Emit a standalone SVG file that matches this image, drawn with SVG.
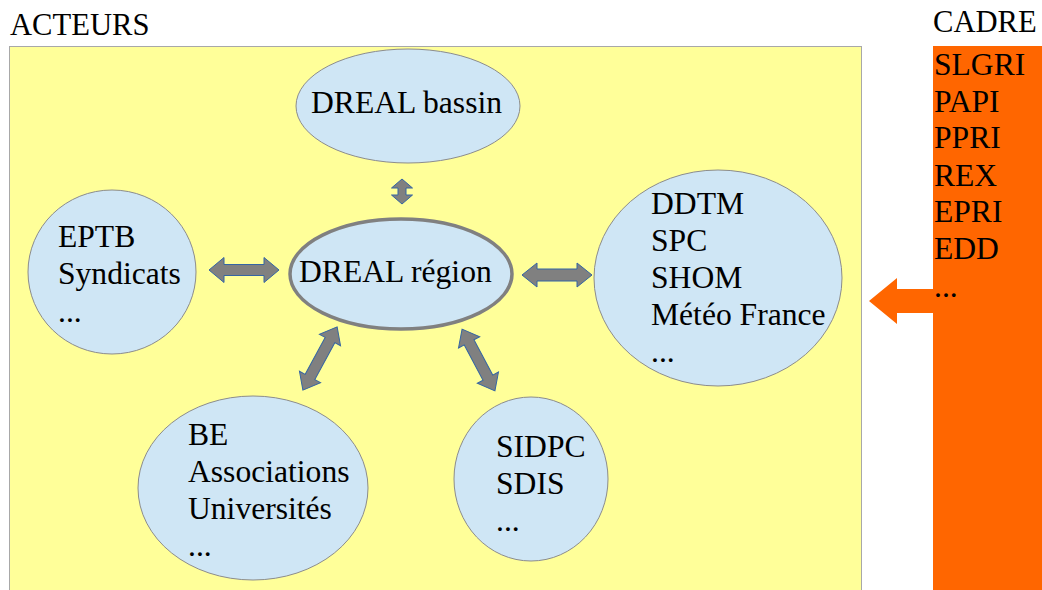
<svg xmlns="http://www.w3.org/2000/svg" width="1042" height="590" viewBox="0 0 1042 590">
<style>
text{font-family:'Liberation Serif','Times New Roman',Times,serif;fill:#000;font-size:31.6px;}
.h{font-size:30.6px;}
.node{fill:#cfe6f5;stroke:#8c8c8c;stroke-width:1;}
.arr{fill:#808080;stroke:#3465a4;stroke-width:1;stroke-linejoin:miter;}
</style>
<rect x="0" y="0" width="1042" height="590" fill="#fff"/>
<text x="10" y="35" class="h">ACTEURS</text>
<text x="933" y="32" class="h">CADRE</text>
<rect id="acteurs" x="9.5" y="46.5" width="852" height="560" fill="#ffff99" stroke="#a8a8a8" stroke-width="1"/>
<g id="cadre">
<rect x="933" y="46" width="112" height="550" fill="#ff6600"/>
<text><tspan x="934" y="75">SLGRI</tspan><tspan x="934" y="112">PAPI</tspan><tspan x="934" y="148">PPRI</tspan><tspan x="934" y="186">REX</tspan><tspan x="934" y="222">EPRI</tspan><tspan x="934" y="259">EDD</tspan><tspan x="934" y="297">...</tspan></text>
</g>
<g id="connectors">
<path d="M869 301 L897 278 L897 289 L933 289 L933 313 L897 313 L897 324 Z" fill="#ff6600"/>
<path class="arr" transform="translate(402 191.5) rotate(90)" d="M-12.5 0 L-3.5 -10.5 L-3.5 -4 L3.5 -4 L3.5 -10.5 L12.5 0 L3.5 10.5 L3.5 4 L-3.5 4 L-3.5 10.5 Z"/>
<path class="arr" transform="translate(244 270)" d="M-35 0 L-20 -12.5 L-20 -5.5 L20 -5.5 L20 -12.5 L35 0 L20 12.5 L20 5.5 L-20 5.5 L-20 12.5 Z"/>
<path class="arr" transform="translate(557 275)" d="M-35 0 L-20 -12 L-20 -6 L20 -6 L20 -12 L35 0 L20 12 L20 6 L-20 6 L-20 12 Z"/>
<path class="arr" transform="translate(320 358.5) rotate(118.4)" d="M-36 0 L-21 -12 L-21 -5.5 L21 -5.5 L21 -12 L36 0 L21 12 L21 5.5 L-21 5.5 L-21 12 Z"/>
<path class="arr" transform="translate(478.5 360) rotate(62)" d="M-35 0 L-20 -12 L-20 -5.5 L20 -5.5 L20 -12 L35 0 L20 12 L20 5.5 L-20 5.5 L-20 12 Z"/>
</g>
<g id="dreal-bassin">
<ellipse class="node" cx="408" cy="106" rx="112" ry="57"/>
<text x="311" y="113">DREAL bassin</text>
</g>
<g id="dreal-region">
<ellipse cx="401" cy="274" rx="111" ry="55" fill="#cfe6f5" stroke="#808080" stroke-width="3.5"/>
<text x="299" y="282">DREAL région</text>
</g>
<g id="eptb">
<ellipse class="node" cx="112" cy="272" rx="84" ry="82"/>
<text><tspan x="58" y="247">EPTB</tspan><tspan x="58" y="284">Syndicats</tspan><tspan x="58" y="322">...</tspan></text>
</g>
<g id="ddtm">
<ellipse class="node" cx="718" cy="278" rx="124" ry="108"/>
<text><tspan x="651" y="214">DDTM</tspan><tspan x="651" y="251">SPC</tspan><tspan x="651" y="288">SHOM</tspan><tspan x="651" y="325">Météo France</tspan><tspan x="651" y="362">...</tspan></text>
</g>
<g id="be">
<ellipse class="node" cx="253" cy="488" rx="115" ry="92"/>
<text><tspan x="188" y="445">BE</tspan><tspan x="188" y="482">Associations</tspan><tspan x="188" y="519">Universités</tspan><tspan x="188" y="556">...</tspan></text>
</g>
<g id="sidpc">
<ellipse class="node" cx="531" cy="479" rx="77" ry="82"/>
<text><tspan x="496" y="457">SIDPC</tspan><tspan x="496" y="494">SDIS</tspan><tspan x="496" y="531">...</tspan></text>
</g>
</svg>
